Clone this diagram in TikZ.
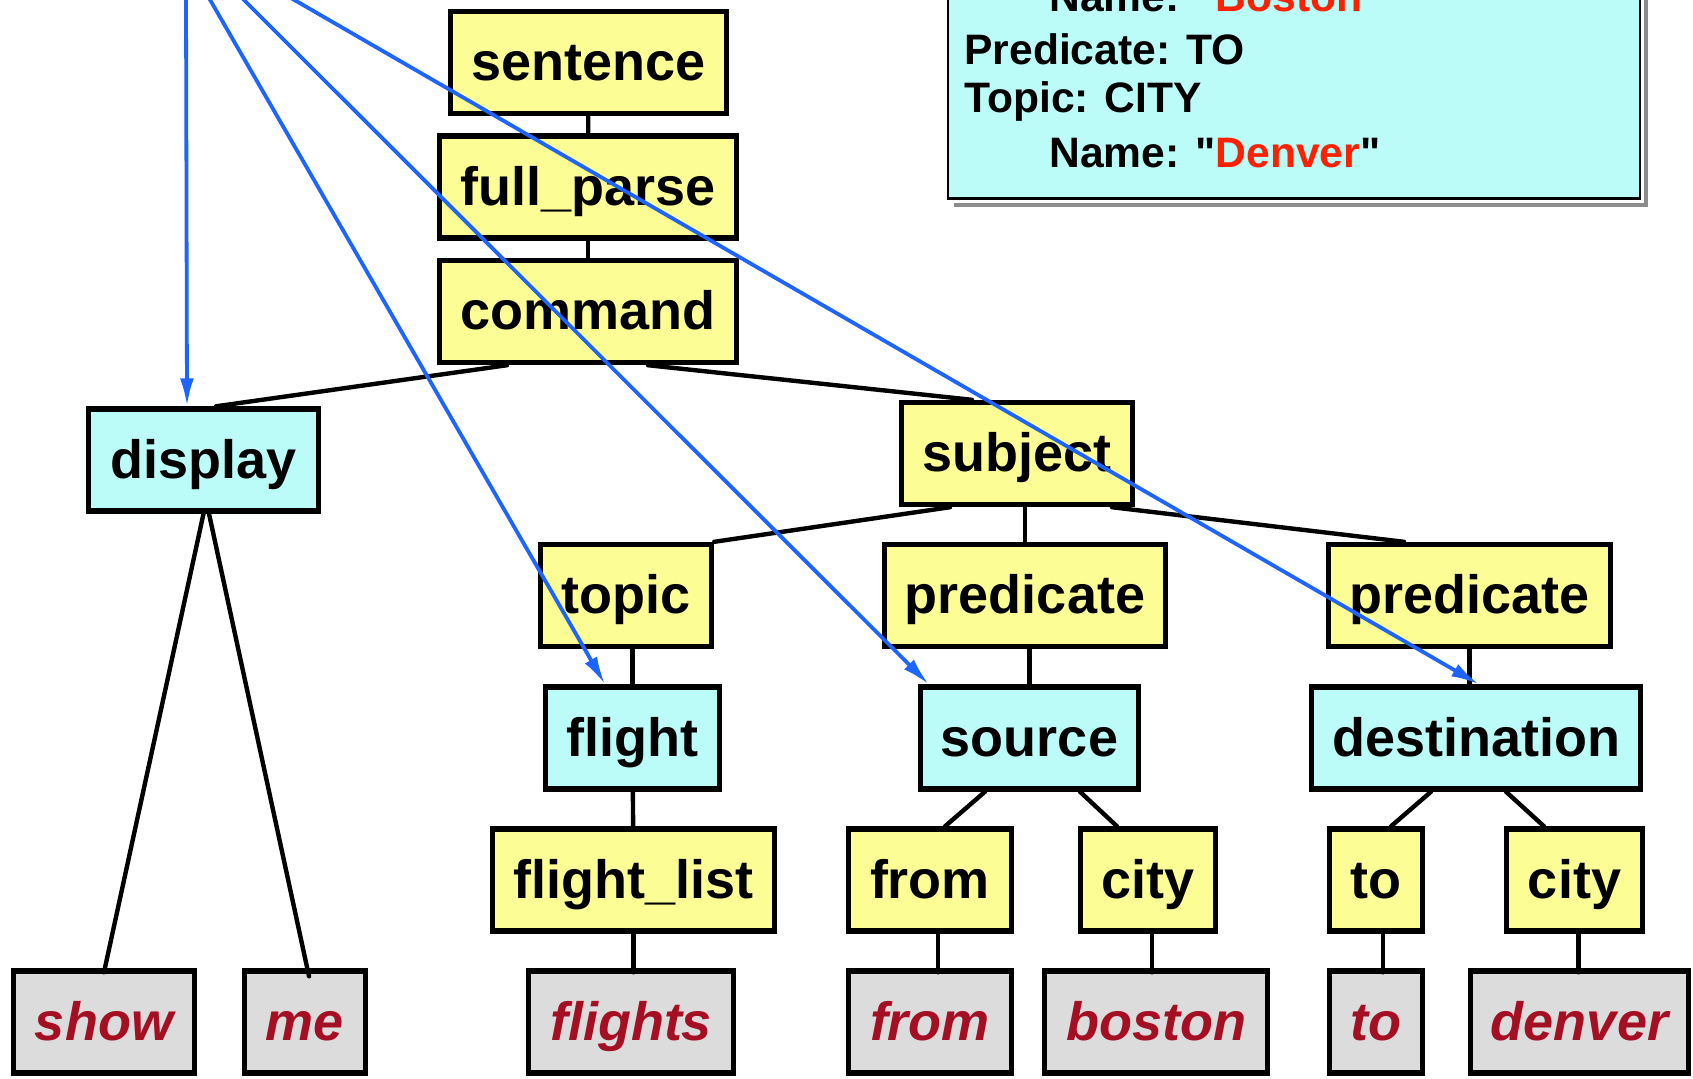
\documentclass[tikz,border=0pt]{standalone}
\usepackage{fontspec}
\setmainfont{Liberation Sans}
\usetikzlibrary{arrows.meta}

\begin{document}
\begin{tikzpicture}
		[x=0.5pt,y=-0.5pt,line cap=round,
		%Styles
		box/.style={draw,line width=2.7pt,rectangle,minimum height=51pt,inner sep=0pt,
			text height=23.5pt,text depth=5.5pt,font=\fontsize{27}{30}\selectfont\bfseries},
		rule/.style={box,fill=ruleyellow},
		key/.style={box,fill=keycyan},
		word/.style={box,fill=wordgray,text=wordred,font=\fontsize{27}{30}\selectfont\bfseries\itshape},
		branch/.style={line width=2.2pt},
		link/.style={-{Latex[length=14pt,width=7pt]},line width=1.9pt,draw=linkblue},
		frame text/.style={anchor=west,inner sep=0pt,font=\fontsize{21.3}{26}\selectfont\bfseries}
		]
		
		%Colors
		\definecolor{ruleyellow}{RGB}{253,253,150}
		\definecolor{keycyan}{RGB}{188,252,248}
		\definecolor{wordgray}{RGB}{220,220,220}
		\definecolor{wordred}{RGB}{165,15,35}
		\definecolor{linkblue}{RGB}{30,100,255}
		\definecolor{cityred}{RGB}{255,32,0}
		\definecolor{shadowgray}{RGB}{140,140,140}
		
		\useasboundingbox (0,0) rectangle (1693,1078);
		\clip (0,0) rectangle (1693,1078);
		
		%The frame (top right)
		\node[draw,fill=keycyan,line width=1.3pt,minimum width=346pt,minimum height=129pt] (frame) at (1294,69.5) {};
		\fill[shadowgray] ([shift={(7,3)}]frame.south west) rectangle ([shift={(7,7)}]frame.south east);
		\fill[shadowgray] ([shift={(3,7)}]frame.north east) rectangle ([shift={(7,7)}]frame.south east);
		\node[frame text] (name boston) at (1049,-3) {Name: \textquotedbl\textcolor{cityred}{Boston}\textquotedbl};
		\node[frame text] (pred to) at (964,49) {Predicate: TO};
		\node[frame text] (topic city) at (964,101) {Topic: CITY};
		\node[frame text] (name denver) at (1049,153) {Name: \textquotedbl\textcolor{cityred}{Denver}\textquotedbl};
		
		%The tree
		\node[rule,minimum width=138pt] (sentence) at (588.5,62.5) {sentence};
		\node[rule,minimum width=148.5pt] (full parse) at (588,187) {full\_parse};
		\node[rule,minimum width=148.5pt] (command) at (588,311.5) {command};
		\node[key,minimum width=115pt] (display) at (203.5,460) {display};
		\node[rule,minimum width=115.5pt] (subject) at (1017,453.5) {subject};
		\node[rule,minimum width=85.5pt] (topic) at (626,595.5) {topic};
		\node[rule,minimum width=140.5pt] (predicate from) at (1025,595.5) {predicate};
		\node[rule,minimum width=141pt] (predicate to) at (1469.5,595.5) {predicate};
		\node[key,minimum width=87pt] (flight) at (632.5,738) {flight};
		\node[key,minimum width=109pt] (source) at (1029.5,738) {source};
		\node[key,minimum width=164.5pt] (destination) at (1476,738) {destination};
		\node[rule,minimum width=141pt] (flight list) at (633.5,880) {flight\_list};
		\node[rule,minimum width=81.5pt] (from) at (930,880) {from};
		\node[rule,minimum width=67.5pt] (city from) at (1148,880) {city};
		\node[rule,minimum width=46.5pt] (to) at (1376,880) {to};
		\node[rule,minimum width=68pt] (city to) at (1574.5,880) {city};
		
		%The words
		\node[word,minimum width=90.5pt] (w show) at (104,1022) {show};
		\node[word,minimum width=60.5pt] (w me) at (305,1022) {me};
		\node[word,minimum width=102.5pt] (w flights) at (631,1022) {flights};
		\node[word,minimum width=81.5pt] (w from) at (930,1022) {from};
		\node[word,minimum width=111.5pt] (w boston) at (1156,1022) {boston};
		\node[word,minimum width=46.5pt] (w to) at (1376,1022) {to};
		\node[word,minimum width=109pt] (w denver) at (1579.5,1022) {denver};
		
		%Branches
		\draw[branch] (sentence) -- (full parse);
		\draw[branch] (full parse) -- (command);
		\draw[branch] ([xshift=-40.5pt]command.south) -- ([xshift=6.25pt]display.north);
		\draw[branch] ([xshift=30pt]command.south) -- ([xshift=-22.5pt]subject.north);
		\draw[branch] ([xshift=-33.5pt]subject.south) -- (topic.north east);
		\draw[branch] (predicate from.north |- subject.south) -- (predicate from.north);
		\draw[branch] ([xshift=47.5pt]subject.south) -- ([xshift=-32.75pt]predicate to.north);
		\draw[branch] (flight.north |- topic.south) -- (flight.north);
		\draw[branch] (source.north |- predicate from.south) -- (source.north);
		\draw[branch] (predicate to.south) -- (destination.north -| predicate to.south);
		\draw[branch] (flight) -- (flight list);
		\draw[branch] ([xshift=-22.25pt]source.south) -- ([xshift=7.5pt]from.north);
		\draw[branch] ([xshift=25.25pt]source.south) -- ([xshift=-15.5pt]city from.north);
		\draw[branch] ([xshift=-22.5pt]destination.south) -- ([xshift=7.5pt]to.north);
		\draw[branch] ([xshift=15pt]destination.south) -- ([xshift=-15.25pt]city to.north);
		\draw[branch] (display.south) -- ([yshift=-2pt]w show.north);
		\draw[branch] ([xshift=2.75pt]display.south) -- ([xshift=2pt,yshift=-4pt]w me.north);
		\draw[branch] (flight list.south) -- ([yshift=-2pt]w flights.north -| flight list.south);
		\draw[branch] ([xshift=4pt]from.south) -- ([xshift=4pt,yshift=-2pt]w from.north);
		\draw[branch] ([xshift=2pt]city from.south) -- ([xshift=2pt,yshift=-2pt]city from.south |- w boston.north);
		\draw[branch] ([xshift=3.5pt]to.south) -- ([xshift=3.5pt,yshift=-2pt]w to.north);
		\draw[branch] ([xshift=2pt]city to.south) -- ([xshift=2pt,yshift=-2pt]city to.south |- w denver.north);
		
		%Links from above
		\coordinate (from display) at (186,-2);
		\coordinate (from flight) at (209,-2);
		\coordinate (from source) at (242,-2);
		\coordinate (from destination) at (291,-2);
		\draw[link] (from display) -- ([xshift=-8.25pt]display.north);
		\draw[link] (from flight) -- ([xshift=-13.75pt]flight.north);
		\draw[link] (from source) -- ([xshift=5.5pt]source.north west);
		\draw[link] (from destination) -- ([xshift=1.5pt]destination.north);
	\end{tikzpicture}
\end{document}
